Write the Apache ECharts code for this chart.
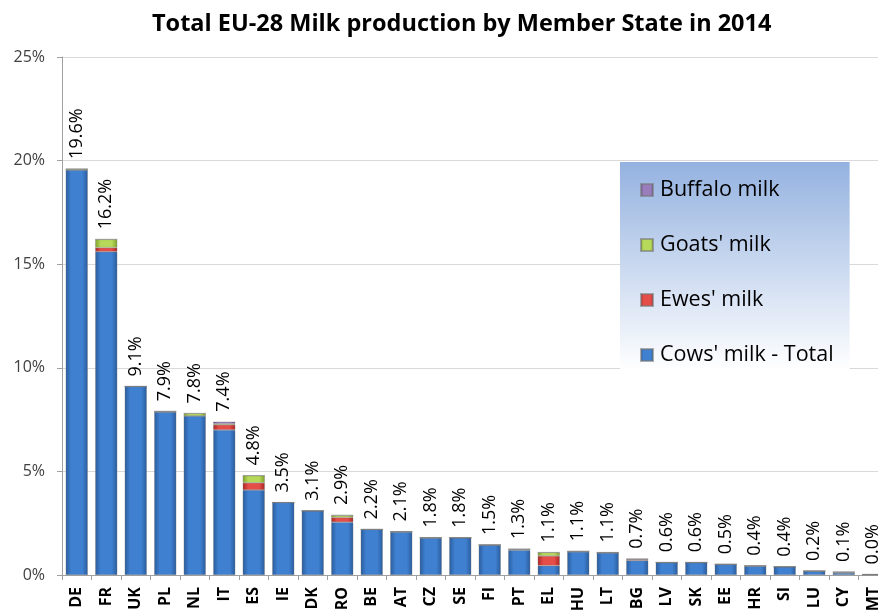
<!DOCTYPE html>
<html>
<head>
<meta charset="utf-8">
<script src="https://cdn.jsdelivr.net/npm/echarts@6/dist/echarts.min.js"></script>
<style>html,body{margin:0;padding:0;background:#fff}#c{width:878px;height:611px}</style>
</head>
<body>
<div id="c"></div>
<script>
var categories = ['DE','FR','UK','PL','NL','IT','ES','IE','DK','RO','BE','AT','CZ','SE','FI','PT','EL','HU','LT','BG','LV','SK','EE','HR','SI','LU','CY','MT'];
var cowsMilk    = [19.55,15.6,9.1,7.87,7.68,7.0,4.1,3.5,3.1,2.55,2.2,2.08,1.79,1.8,1.45,1.2,0.45,1.12,1.07,0.7,0.6,0.6,0.51,0.43,0.4,0.19,0.1,0.02];
var ewesMilk    = [0,0.2,0,0,0,0.25,0.35,0,0,0.23,0,0,0,0,0,0.03,0.47,0,0,0.05,0,0,0,0,0,0,0.02,0];
var goatsMilk   = [0.05,0.4,0,0.03,0.12,0.05,0.35,0,0,0.1,0,0.02,0.02,0,0,0.02,0.17,0.03,0.02,0.02,0.01,0.01,0.01,0.02,0,0,0.03,0.01];
var buffaloMilk = [0,0,0,0,0,0.1,0,0,0,0.01,0,0,0,0,0,0,0,0,0,0.01,0,0,0,0,0,0,0,0];
var totalLabels = ['19.6%','16.2%','9.1%','7.9%','7.8%','7.4%','4.8%','3.5%','3.1%','2.9%','2.2%','2.1%','1.8%','1.8%','1.5%','1.3%','1.1%','1.1%','1.1%','0.7%','0.6%','0.6%','0.5%','0.4%','0.4%','0.2%','0.1%','0.0%'];
var yTicks = [0,5,10,15,20,25];

var totals = categories.map(function(_, i){ return cowsMilk[i]+ewesMilk[i]+goatsMilk[i]+buffaloMilk[i]; });

function grad(edge, mid){
  return new echarts.graphic.LinearGradient(0,0,1,0,[
    {offset:0,color:edge},{offset:0.25,color:mid},{offset:0.75,color:mid},{offset:1,color:edge}
  ]);
}
var chart = echarts.init(document.getElementById('c'), null, {renderer:'canvas'});
var barCommon = {type:'bar', stack:'milk', barCategoryGap:'25%', itemStyle:{borderColor:'rgba(120,120,120,0.6)', borderWidth:0.6}};
chart.setOption({
  animation:false,
  backgroundColor:'#fff',
  title:{text:'Total EU-28 Milk production by Member State in 2014', left:147, top:7,
    textStyle:{fontFamily:'Open Sans', fontWeight:'bold', fontSize:23.5, color:'#000'}},
  legend:{
    orient:'vertical', left:620, top:162,
    data:["Buffalo milk","Goats' milk","Ewes' milk","Cows' milk - Total"],
    itemWidth:12, itemHeight:12, itemGap:33,
    padding:[17,16,4,20],
    backgroundColor:new echarts.graphic.LinearGradient(0,0,0,1,[{offset:0,color:'#94b2e0'},{offset:1,color:'#ffffff'}]),
    textStyle:{fontFamily:'Open Sans', fontSize:21.5, color:'#000', padding:[0,0,0,2]},
    icon:'rect'
  },
  grid:{left:62, width:826, top:57, bottom:36, containLabel:false, outerBoundsMode:'none'},
  xAxis:{type:'category', data:categories,
    axisLine:{lineStyle:{color:'#a0a0a0'}},
    axisTick:{show:true, length:5, lineStyle:{color:'#a0a0a0'}},
    axisLabel:{rotate:90, interval:0, fontFamily:'Open Sans', fontWeight:'bold', fontSize:16, color:'#000', margin:12}
  },
  yAxis:{type:'value', min:yTicks[0], max:yTicks[yTicks.length-1], interval:yTicks[1]-yTicks[0],
    axisLine:{show:true, lineStyle:{color:'#a0a0a0'}},
    axisTick:{show:true, length:5, lineStyle:{color:'#a0a0a0'}},
    splitLine:{lineStyle:{color:'#d9d9d9'}},
    axisLabel:{formatter:'{value}%', fontFamily:'Open Sans', fontSize:16, color:'#404040', margin:17}
  },
  series:[
    Object.assign({}, barCommon, {name:"Cows' milk - Total", data:cowsMilk, color:'#3b7bcb',
      itemStyle:Object.assign({}, barCommon.itemStyle, {color:grad('#2a5c9c','#3f80d0')})}),
    Object.assign({}, barCommon, {name:"Ewes' milk", data:ewesMilk, color:'#d43a36',
      itemStyle:Object.assign({}, barCommon.itemStyle, {color:grad('#a82522','#e44d48')})}),
    Object.assign({}, barCommon, {name:"Goats' milk", data:goatsMilk, color:'#9ec33f',
      itemStyle:Object.assign({}, barCommon.itemStyle, {color:grad('#7ea12b','#b6d95a')})}),
    Object.assign({}, barCommon, {name:"Buffalo milk", data:buffaloMilk, color:'#8064a2',
      itemStyle:Object.assign({}, barCommon.itemStyle, {color:grad('#634a86','#9a7ebc')})}),
    {type:'bar', name:'totals', data:totals, barGap:'-100%', barCategoryGap:'25%',
      itemStyle:{color:'rgba(0,0,0,0)'}, silent:true, legendHoverLink:false,
      label:{show:true, position:'top', rotate:90, align:'left', verticalAlign:'middle', distance:10,
        fontFamily:'Open Sans', fontSize:18, color:'#000',
        formatter:function(p){ return totalLabels[p.dataIndex]; }}
    }
  ]
});
</script>
</body>
</html>
